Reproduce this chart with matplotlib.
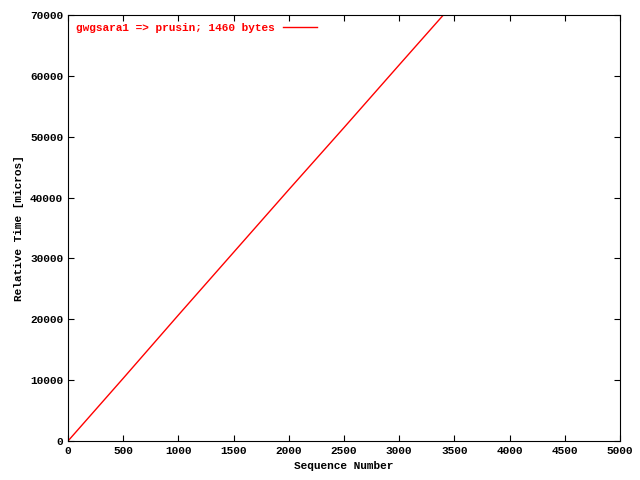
import matplotlib
matplotlib.use("Agg")
import matplotlib.pyplot as plt

seq = [0, 500, 1000, 1500, 2000, 2500, 3000, 3400]
rel_time = [0, 10300, 20700, 31000, 41300, 51500, 61800, 70000]
label = "gwgsara1 => prusin; 1460 bytes"

plt.rcParams['font.family'] = ['Liberation Mono', 'DejaVu Sans Mono']
plt.rcParams['font.size'] = 8
plt.rcParams['font.weight'] = 'bold'

fig = plt.figure(figsize=(6.4, 4.8), dpi=100)
ax = fig.add_axes([68 / 640, 39 / 480, 552 / 640, 426 / 480])
ax.plot(seq, rel_time, color="red", lw=1, label=label)
ax.set_xlim(0, 5000)
ax.set_ylim(0, 70000)
ax.set_xticks(range(0, 5001, 500))
ax.set_yticks(range(0, 70001, 10000))
ax.tick_params(direction="in", top=True, right=True, length=4)
ax.set_xlabel("Sequence Number", fontweight="bold")
ax.set_ylabel("Relative Time [micros]", fontweight="bold")
leg = ax.legend(loc="upper left", frameon=False, markerfirst=False,
                handlelength=3, borderaxespad=0.3)
for t in leg.get_texts():
    t.set_color("red")
fig.savefig("out.png", dpi=100)
